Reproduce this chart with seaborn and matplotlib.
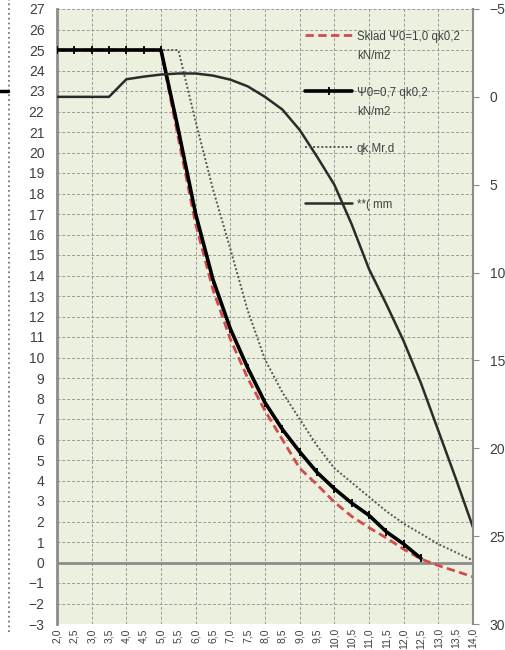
import numpy as np
import pandas as pd
import matplotlib
matplotlib.use("Agg")
import matplotlib.pyplot as plt
import seaborn as sns
from matplotlib.lines import Line2D
from matplotlib.legend_handler import HandlerLine2D

# x positions (m) and the four series
x_vals = [2.0, 2.5, 3.0, 3.5, 4.0, 4.5, 5.0, 5.5, 6.0, 6.5, 7.0, 7.5, 8.0,
          8.5, 9.0, 9.5, 10.0, 10.5, 11.0, 11.5, 12.0, 12.5, 13.0, 13.5, 14.0]

sklad_10 = [25, 25, 25, 25, 25, 25, 25, 20.7, 16.5, 13.3, 10.9, 9.0, 7.4,
            6.0, 4.6, 3.8, 2.95, 2.25, 1.7, 1.2, 0.65, 0.17, -0.15, -0.42, -0.7]

psi_07 = [25, 25, 25, 25, 25, 25, 25, 21.1, 17.0, 13.8, 11.4, 9.5, 7.8,
          6.5, 5.4, 4.4, 3.6, 2.9, 2.3, 1.5, 0.9, 0.2]

qk_mrd = [25, 25, 25, 25, 25, 25, 25, 25, 21.5, 18.2, 15.3, 12.3, 9.9,
          8.3, 7.0, 5.7, 4.6, 3.9, 3.2, 2.5, 1.9, 1.4, 0.9, 0.5, 0.1]

# deflection, right axis (mm, inverted)
ugib_mm = [0.0, 0.0, 0.0, 0.0, -1.0, -1.15, -1.27, -1.33, -1.33, -1.21, -0.98, -0.6, 0.0,
           0.72, 1.88, 3.4, 5.0, 7.25, 9.8, 11.8, 13.9, 16.3, 19.0, 21.7, 24.5]

# every label takes two lines so the keys sit evenly, as in Excel
labels = ["Sklad \u03a80=1,0 qk0,2\nkN/m2", "\u03a80=0,7 qk0,2\nkN/m2",
          "qk,Mr,d\n ", "**( mm\n "]

left_ticks = list(range(-3, 28))
right_ticks = list(range(-5, 31, 5))


class TopLine(HandlerLine2D):
    # key next to the first line of the label
    def create_artists(self, legend, orig_handle, xdescent, ydescent,
                       width, height, fontsize, trans):
        return super().create_artists(legend, orig_handle, xdescent, ydescent - 17,
                                      width, height, fontsize, trans)


sns.set_style("white")
plt.rcParams['font.family'] = ['Liberation Sans', 'DejaVu Sans']

fig = plt.figure(figsize=(5.06, 6.5), dpi=100)
ax = fig.add_axes([57 / 506, 1 - 624 / 650, (473 - 57) / 506, (624 - 9) / 650])
ax.set_facecolor('#EBF1DE')

sns.lineplot(x=x_vals, y=sklad_10, ax=ax, color='#D44B4B', lw=2.0,
             linestyle=(0, (3, 1.6)), zorder=3)
l_red = ax.lines[-1]
sns.lineplot(x=x_vals, y=qk_mrd, ax=ax, color='#555555', lw=1.4,
             linestyle=(0, (1, 1.1)), zorder=3)
l_dot = ax.lines[-1]
sns.lineplot(x=x_vals[:len(psi_07)], y=psi_07, ax=ax, color='black', lw=2.6,
             marker='|', markersize=6, markeredgewidth=1.3, markeredgecolor='black',
             zorder=4)
l_blk = ax.lines[-1]

ax.axhline(0, color='#8c8c8c', lw=2, zorder=2)

ax.set_xlim(2, 14)
ax.set_ylim(-3, 27)
ax.set_yticks(left_ticks)

fmt = lambda v: f"{v:.1f}".replace('.', ',')
major = [v for v in x_vals if v == int(v)]
minor = [v for v in x_vals if v != int(v)]
ax.set_xticks(major, [fmt(v) for v in major])
ax.set_xticks(minor, [fmt(v) for v in minor], minor=True)
ax.tick_params(axis='x', which='both', length=0, labelrotation=90, labelsize=7.5,
               pad=3, colors='#404040')
ax.tick_params(axis='y', length=0, labelsize=10, pad=9, colors='#404040')

ax.grid(True, which='major', color='#9a9a9a', linestyle=(0, (3, 2)), lw=0.7)
ax.set_axisbelow(True)
for s in ['top', 'right', 'bottom']:
    ax.spines[s].set_visible(False)
ax.spines['left'].set_color('#8c8c8c')
ax.spines['left'].set_linewidth(2)
ax.set_xlabel('')
ax.set_ylabel('')

ax2 = ax.twinx()
sns.lineplot(x=x_vals, y=ugib_mm, ax=ax2, color='#2b2b2b', lw=1.8)
l_def = ax2.lines[-1]
ax2.set_ylim(30, -5)
ax2.set_yticks(right_ticks)
ax2.tick_params(axis='y', length=4, labelsize=10, pad=8, colors='#404040')
ax2.tick_params(axis='y', color='#8c8c8c')
for s in ['top', 'left', 'bottom']:
    ax2.spines[s].set_visible(False)
ax2.spines['right'].set_color('#8c8c8c')
ax2.spines['right'].set_linewidth(1.5)
ax2.set_ylabel('')
ax2.grid(False)

handles = [l_red, l_blk, l_dot, l_def]
leg = ax2.legend(handles, labels, loc='upper left',
                 bbox_to_anchor=(305 / 506, 1 - 31 / 650), bbox_transform=fig.transFigure,
                 frameon=False, fontsize=8.3, handlelength=4.1, handletextpad=0.4,
                 labelspacing=2.15, borderpad=0, borderaxespad=0,
                 handler_map={h: TopLine() for h in handles})
for t in leg.get_texts():
    t.set_linespacing(1.8)
    t.set_color('#404040')

# bits of the neighbouring chart at the left edge of the crop
fig.add_artist(Line2D([9 / 506, 9 / 506], [1 - 632 / 650, 1], transform=fig.transFigure,
                      color='#777777', ls=':', lw=1.3))
fig.add_artist(Line2D([0, 8 / 506], [1 - 91 / 650, 1 - 91 / 650], transform=fig.transFigure,
                      color='black', lw=2.5))

fig.savefig('out.png', dpi=100)
